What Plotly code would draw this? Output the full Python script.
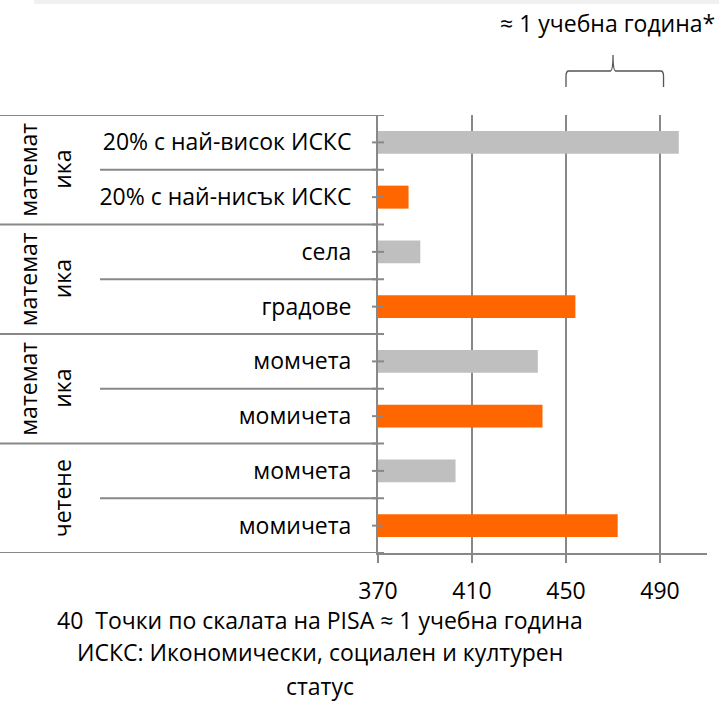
import plotly.graph_objects as go

# ---- data ----
sub_labels = ["20% с най-висок ИСКС", "20% с най-нисък ИСКС", "села", "градове",
              "момчета", "момичета", "момчета", "момичета"]
values = [498, 383, 388, 454, 438, 440, 403, 472]
bar_colors = ["#BFBFBF", "#FF6600", "#BFBFBF", "#FF6600",
              "#BFBFBF", "#FF6600", "#BFBFBF", "#FF6600"]
group_labels = [["математ", "ика"], ["математ", "ика"], ["математ", "ика"], ["", "четене"]]
group_size = 2
x_ticks = [370, 410, 450, 490]
x_range = [370, 510]
brace_span = [450, 490]
brace_label = "≈ 1 учебна година*"
notes = ["40  Точки по скалата на PISA ≈ 1 учебна година",
         "ИСКС: Икономически, социален и културен",
         "статус"]

W, H = 719, 702
L, R, T, B = 378, 12, 115, 149
PW, PH = W - L - R, H - T - B
FONT = "Open Sans"
FS = 23
LINE = "#888888"

def px_x(p):
    return (p - L) / PW

def px_y(p):
    return (H - B - p) / PH

ypos = list(range(len(values)))

fig = go.Figure(go.Bar(
    x=[v - x_range[0] for v in values], base=x_range[0], y=ypos, orientation="h",
    marker=dict(color=bar_colors, line=dict(width=0)),
    hoverinfo="skip",
))

shapes = []
n = len(values)
for i in range(n + 1):
    b = i - 0.5
    full = (i % group_size == 0)
    shapes.append(dict(type="line", xref="paper", yref="y",
                       x0=px_x(0 if full else 100), x1=0, y0=b, y1=b,
                       line=dict(color=LINE, width=2)))
    shapes.append(dict(type="line", xref="paper", yref="y",
                       x0=px_x(372), x1=px_x(384), y0=b, y1=b,
                       line=dict(color=LINE, width=2)))
for i in range(n):
    shapes.append(dict(type="line", xref="paper", yref="y",
                       x0=px_x(372), x1=px_x(384), y0=i, y1=i,
                       line=dict(color=LINE, width=2)))

# brace
b0, b1 = brace_span
bm = (b0 + b1) / 2
yh, ye, ys = px_y(71), px_y(87), px_y(55)
d = 1.2
e = b1 + 1.5
path = (f"M {b0},{ye} L {b0},{yh - 0.012} Q {b0},{yh} {b0 + d},{yh} "
        f"L {bm - d},{yh} Q {bm},{yh} {bm},{ys} Q {bm},{yh} {bm + d},{yh} "
        f"L {e - d},{yh} Q {e},{yh} {e},{yh - 0.012} L {e},{ye}")
shapes.append(dict(type="path", xref="x", yref="paper", path=path,
                   line=dict(color="#555555", width=1.3)))

shapes.append(dict(type="rect", xref="paper", yref="paper",
                   x0=px_x(34), x1=px_x(719), y0=px_y(0), y1=px_y(4),
                   fillcolor="#F0F0F0", line=dict(width=0), layer="below"))

annotations = []
for g, lines in enumerate(group_labels):
    yc = g * group_size + (group_size - 1) / 2
    for txt, xc in zip(lines, [28, 62]):
        if not txt:
            continue
        annotations.append(dict(text=txt, x=px_x(xc), y=yc, xref="paper", yref="y",
                                showarrow=False, textangle=-90, xanchor="center", yanchor="middle",
                                font=dict(family=FONT, size=FS, color="#000000")))
annotations.append(dict(text=brace_label, x=px_x(717), y=px_y(23), xref="paper", yref="paper",
                        showarrow=False, xanchor="right", yanchor="middle",
                        font=dict(family=FONT, size=FS, color="#000000")))
for txt, yy in zip(notes, [620, 652, 686]):
    annotations.append(dict(text=txt, x=px_x(320), y=px_y(yy), xref="paper", yref="paper",
                            showarrow=False, xanchor="center", yanchor="middle",
                            font=dict(family=FONT, size=FS, color="#000000")))

fig.update_layout(
    width=W, height=H, margin=dict(l=L, r=R, t=T, b=B, pad=0),
    paper_bgcolor="white", plot_bgcolor="white",
    showlegend=False, bargap=0.58,
    font=dict(family=FONT, size=FS, color="#000000"),
    shapes=shapes, annotations=annotations,
    xaxis=dict(range=x_range, tickvals=x_ticks, showgrid=True, gridcolor=LINE, gridwidth=2,
               showline=True, linecolor=LINE, linewidth=2, ticks="outside", ticklen=8,
               tickcolor=LINE, tickwidth=2, zeroline=False, fixedrange=True,
               ticklabelstandoff=8,
               tickfont=dict(family=FONT, size=FS, color="#000000")),
    yaxis=dict(range=[n - 0.5, -0.5], tickvals=ypos, ticktext=sub_labels,
               showgrid=False, showline=True, linecolor=LINE, linewidth=2,
               ticks="", ticklabelstandoff=20, zeroline=False, fixedrange=True,
               tickfont=dict(family=FONT, size=FS, color="#000000")),
)

fig.write_html("out.html", config={"displayModeBar": False},
               post_script="document.body.style.margin='0';")
